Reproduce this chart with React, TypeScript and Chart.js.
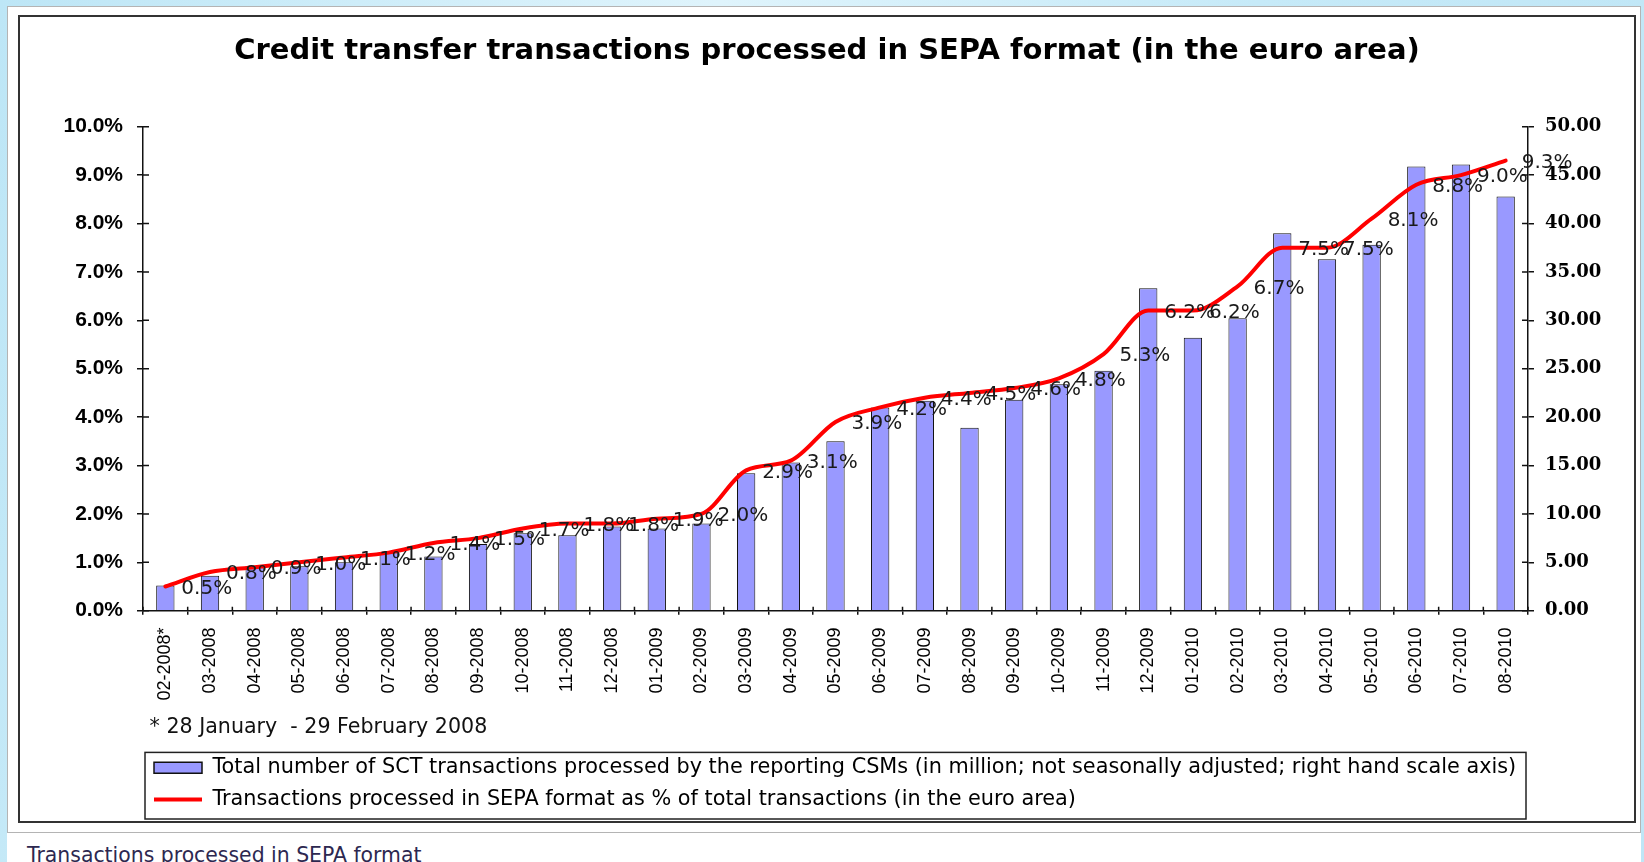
import React, { useEffect, useRef } from "react";
import { Chart, registerables } from "chart.js";

Chart.register(...registerables);

const chartTitle = "Credit transfer transactions processed in SEPA format (in the euro area)";
const footnote = " * 28 January  - 29 February 2008";
const pageCaption = "Transactions processed in SEPA format";

const categories = [
  "02-2008*", "03-2008", "04-2008", "05-2008", "06-2008", "07-2008", "08-2008", "09-2008",
  "10-2008", "11-2008", "12-2008", "01-2009", "02-2009", "03-2009", "04-2009", "05-2009",
  "06-2009", "07-2009", "08-2009", "09-2009", "10-2009", "11-2009", "12-2009", "01-2010",
  "02-2010", "03-2010", "04-2010", "05-2010", "06-2010", "07-2010", "08-2010",
];

// Total number of SCT transactions (million, right axis)
const sctVolumes = [
  2.6, 3.6, 4.5, 4.6, 5.0, 6.0, 5.6, 6.9, 8.0, 7.8, 8.7,
  8.5, 9.0, 14.2, 15.3, 17.5, 21.0, 21.7, 18.9, 21.8, 23.4, 24.8, 33.3,
  28.2, 30.2, 39.0, 36.3, 37.8, 45.9, 46.1, 42.8,
];

// Share processed in SEPA format (% of total, left axis)
const sepaShare = [
  0.5, 0.8, 0.9, 1.0, 1.1, 1.2, 1.4, 1.5, 1.7, 1.8, 1.8,
  1.9, 2.0, 2.9, 3.1, 3.9, 4.2, 4.4, 4.5, 4.6, 4.8, 5.3, 6.2,
  6.2, 6.7, 7.5, 7.5, 8.1, 8.8, 9.0, 9.3,
];

const barLabel =
  "Total number of SCT transactions processed by the reporting CSMs (in million; not seasonally adjusted; right hand scale axis)";
const lineLabel = "Transactions processed in SEPA format as % of total transactions (in the euro area)";

const SANS = '"DejaVu Sans", sans-serif';
const ARIAL = '"Liberation Sans", Arial, sans-serif';
const SERIF = '"DejaVu Serif", serif';

const pointLabelPlugin = {
  id: "pointLabels",
  afterDatasetsDraw(chart: any) {
    const meta = chart.getDatasetMeta(1);
    const ctx = chart.ctx;
    ctx.save();
    ctx.font = `20px ${SANS}`;
    ctx.fillStyle = "#1a1a1a";
    ctx.textAlign = "left";
    ctx.textBaseline = "middle";
    meta.data.forEach((el: any, i: number) => {
      ctx.fillText(sepaShare[i].toFixed(1) + "%", el.x + 16, el.y + 2);
    });
    ctx.restore();
  },
};

const crossTicksPlugin = {
  id: "crossTicks",
  afterDraw(chart: any) {
    const ctx = chart.ctx;
    const { x, y, y1 } = chart.scales;
    ctx.save();
    ctx.strokeStyle = "#111";
    ctx.lineWidth = 1.5;
    ctx.beginPath();
    y.ticks.forEach((t: any) => {
      const py = y.getPixelForValue(t.value);
      ctx.moveTo(y.right, py);
      ctx.lineTo(y.right + 6, py);
    });
    y1.ticks.forEach((t: any) => {
      const py = y1.getPixelForValue(t.value);
      ctx.moveTo(y1.left - 6, py);
      ctx.lineTo(y1.left, py);
    });
    const half = (x.getPixelForValue(1) - x.getPixelForValue(0)) / 2;
    for (let i = 0; i <= categories.length; i++) {
      const px = x.getPixelForValue(i) - half;
      ctx.moveTo(px, x.top);
      ctx.lineTo(px, x.top - 4);
    }
    ctx.stroke();
    ctx.restore();
  },
};

const legendFramePlugin = {
  id: "legendFrame",
  afterDraw(chart: any) {
    const lg = chart.legend;
    if (!lg) return;
    const ctx = chart.ctx;
    ctx.save();
    ctx.strokeStyle = "#222";
    ctx.lineWidth = 1.5;
    ctx.strokeRect(lg.left + 2, lg.top + 6, lg.width - 4, lg.height - 7);
    ctx.restore();
  },
};

export default function App() {
  const canvasRef = useRef<HTMLCanvasElement | null>(null);

  useEffect(() => {
    const canvas = canvasRef.current;
    if (!canvas) return;
    const chart = new Chart(canvas, {
      type: "bar",
      data: {
        labels: categories,
        datasets: [
          {
            type: "bar",
            label: barLabel,
            data: sctVolumes,
            yAxisID: "y1",
            backgroundColor: "#9999FF",
            borderColor: "#111",
            borderWidth: 1,
            categoryPercentage: 1,
            barPercentage: 0.41,
            order: 1,
          },
          {
            type: "line",
            label: lineLabel,
            data: sepaShare,
            yAxisID: "y",
            borderColor: "#FF0000",
            backgroundColor: "#FF0000",
            borderWidth: 4,
            pointRadius: 0,
            cubicInterpolationMode: "monotone",
            borderJoinStyle: "round",
            borderCapStyle: "round",
            order: 0,
          },
        ],
      },
      options: {
        responsive: false,
        animation: false,
        devicePixelRatio: 1,
        layout: { padding: { left: 0, right: 0, top: 0, bottom: 1 } },
        plugins: {
          tooltip: { enabled: false },
          title: {
            display: true,
            text: chartTitle,
            color: "#000",
            font: { family: SANS, size: 29, weight: "bold", lineHeight: 1.2 },
            padding: { top: 16.6, bottom: 58.3 },
          },
          legend: {
            display: true,
            position: "bottom",
            align: "start",
            fullSize: false,
            labels: {
              usePointStyle: true,
              pointStyleWidth: 48,
              boxWidth: 48,
              boxHeight: 11,
              padding: 11,
              color: "#111",
              font: { family: SANS, size: 20.8 },
              generateLabels: () => [
                {
                  text: barLabel,
                  fillStyle: "#9999FF",
                  strokeStyle: "#111",
                  lineWidth: 1.5,
                  pointStyle: "rect",
                  hidden: false,
                  datasetIndex: 0,
                },
                {
                  text: lineLabel,
                  fillStyle: "#FF0000",
                  strokeStyle: "#FF0000",
                  lineWidth: 4,
                  pointStyle: "line",
                  hidden: false,
                  datasetIndex: 1,
                },
              ],
            },
          },
        },
        scales: {
          x: {
            offset: true,
            grid: { display: true, drawOnChartArea: false, drawTicks: true, tickLength: 4, color: "#111", lineWidth: 1.5, offset: true },
            border: { display: true, color: "#111", width: 1.5 },
            ticks: {
              autoSkip: false,
              minRotation: 90,
              maxRotation: 90,
              padding: 12.7,
              color: "#000",
              font: { family: ARIAL, size: 18 },
            },
            title: {
              display: true,
              text: footnote,
              align: "start",
              color: "#111",
              font: { family: SANS, size: 20.6, lineHeight: 1.2 },
              padding: { top: 0, bottom: 6.7 },
            },
            afterFit: (s: any) => {
              s.height = 135.7;
            },
          },
          y: {
            position: "left",
            min: 0,
            max: 10,
            grid: { display: true, drawOnChartArea: false, drawTicks: true, tickLength: 6, color: "#111", lineWidth: 1.5 },
            border: { display: true, color: "#111", width: 1.5 },
            ticks: {
              stepSize: 1,
              padding: 14,
              color: "#000",
              font: { family: ARIAL, size: 21, weight: "bold" },
              callback: (v: any) => Number(v).toFixed(1) + "%",
            },
            afterFit: (s: any) => {
              s.width = 123;
            },
          },
          y1: {
            position: "right",
            min: 0,
            max: 50,
            grid: { display: true, drawOnChartArea: false, drawTicks: true, tickLength: 6, color: "#111", lineWidth: 1.5 },
            border: { display: true, color: "#111", width: 1.5 },
            ticks: {
              stepSize: 5,
              padding: 11,
              color: "#000",
              font: { family: SERIF, size: 18, weight: "bold" },
              callback: (v: any) => Number(v).toFixed(2),
            },
            afterFit: (s: any) => {
              s.width = 106;
            },
          },
        },
      },
      plugins: [pointLabelPlugin, crossTicksPlugin, legendFramePlugin],
    } as any);
    return () => chart.destroy();
  }, []);

  return (
    <div
      style={{
        position: "fixed",
        left: 0,
        top: 0,
        width: 1644,
        height: 862,
        overflow: "hidden",
        background: "linear-gradient(100deg, #bde6f6 0%, #dff4fc 40%, #c6eaf8 70%, #bfe6f6 100%)",
      }}
    >
      <div style={{ position: "absolute", left: 7, top: 6, width: 1634, bottom: 0, background: "#fff" }} />
      <div
        style={{
          position: "absolute",
          left: 7,
          top: 6,
          width: 1634,
          height: 827,
          border: "1px solid #b4b4b4",
          boxSizing: "border-box",
        }}
      />
      <div
        style={{
          position: "absolute",
          left: 18,
          top: 15,
          width: 1618,
          height: 808,
          border: "2px solid #333",
          boxSizing: "border-box",
          background: "#fff",
        }}
      >
        <canvas
          ref={canvasRef}
          width={1614}
          height={804}
          style={{ position: "absolute", left: 0, top: 0, width: 1614, height: 804 }}
        />
      </div>
      <div
        style={{
          position: "absolute",
          left: 27,
          top: 844,
          fontFamily: SANS,
          fontSize: 20.4,
          lineHeight: "22px",
          color: "#2d2850",
          whiteSpace: "nowrap",
        }}
      >
        {pageCaption}
      </div>
    </div>
  );
}
